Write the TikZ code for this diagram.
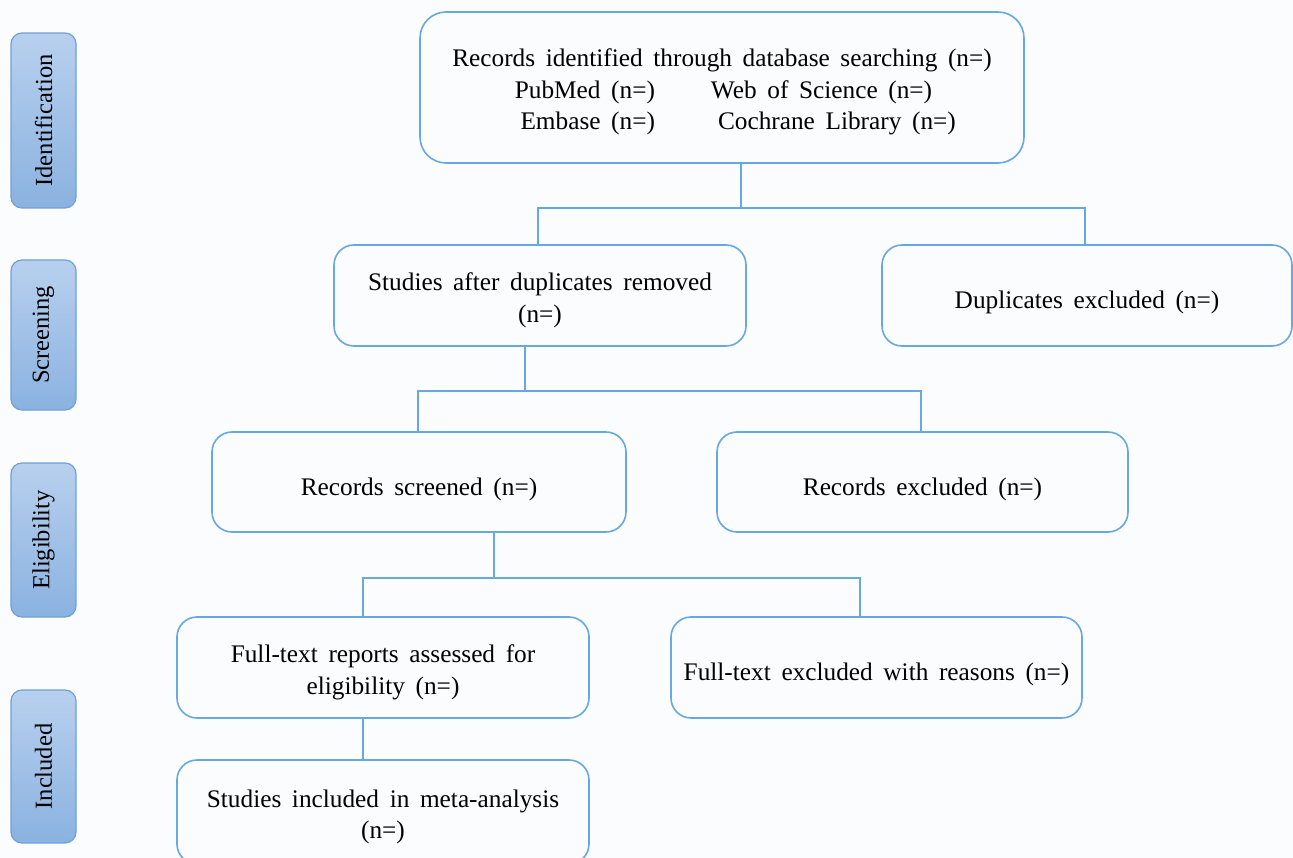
\documentclass[tikz,border=0pt]{standalone}
\usepackage{fontspec}
\setmainfont{Liberation Serif}
\usepackage{xcolor}
\usetikzlibrary{calc}
\tikzset{>=latex}

\definecolor{pagebg}{RGB}{251,252,254}
\definecolor{edgeblue}{RGB}{104,168,224}
\definecolor{stagetop}{RGB}{184,208,238}
\definecolor{stagebot}{RGB}{138,178,224}
\definecolor{stageedge}{RGB}{112,160,215}

\newcommand\boxfont{\fontsize{25.3}{31.5}\selectfont}
\newcommand\widespaces{\spaceskip=0.42em plus 0.1em\relax\rule{0pt}{32pt}}
\newcommand\firstline{\rule{0pt}{27pt}}

\tikzset{
	box/.style={draw=edgeblue, line width=1.6pt, rounded corners=20pt, fill=pagebg, align=center,
		font=\boxfont, execute at begin node=\widespaces, inner sep=0pt},
	stagebox/.style={draw=stageedge, line width=1.2pt, rounded corners=11pt,
		top color=stagetop, bottom color=stagebot, minimum width=65pt,
		font=\fontsize{24.5}{28}\selectfont},
	link/.style={draw=edgeblue, line width=1.6pt}
}

\begin{document}
\begin{tikzpicture}[x=1pt, y=-1pt]
	% page and margins
	\fill[pagebg] (0,0) rectangle (1293,858);
	\useasboundingbox (0,0) rectangle (1293,858);

	% Stages on the left
	\node[stagebox, minimum height=175pt] (ident) at (43.5,120.5) {\rotatebox{90}{Identification}};
	\node[stagebox, minimum height=150pt] (screen) at (43.5,335) {\rotatebox{90}{Screening}};
	\node[stagebox, minimum height=154pt] (elig) at (43.5,540) {\rotatebox{90}{Eligibility}};
	\node[stagebox, minimum height=153pt] (incstage) at (43.5,766.5) {\rotatebox{90}{Included}};

	% Boxes
	\node[box, minimum width=604pt, minimum height=151pt, rounded corners=26pt] (rec) at (722,87.5)
		{\firstline Records identified through database searching (n=)\\
		 \makebox[0pt][r]{PubMed (n=)\hspace{67pt}}\makebox[0pt][l]{\hspace{-11pt}Web of Science (n=)}\\
		 \makebox[0pt][r]{Embase (n=)\hspace{67pt}}\makebox[0pt][l]{\hspace{-4pt}Cochrane Library (n=)}};
	\node[box, minimum width=412pt, minimum height=101pt] (stud) at (540,295.5)
		{\firstline Studies after duplicates removed\\(n=)};
	\node[box, minimum width=410pt, minimum height=101pt] (dupex) at (1087,295.5)
		{Duplicates excluded (n=)};
	\node[box, minimum width=414pt, minimum height=100pt] (scrn) at (419,482)
		{Records screened (n=)};
	\node[box, minimum width=411pt, minimum height=100pt] (recex) at (922.5,482)
		{Records excluded (n=)};
	\node[box, minimum width=412pt, minimum height=101pt] (full) at (383,667.5)
		{\firstline Full-text reports assessed for\\eligibility (n=)};
	\node[box, minimum width=411pt, minimum height=101pt] (fullex) at (876.5,667.5)
		{Full-text excluded with reasons (n=)};
	\node[box, minimum width=412pt, minimum height=104pt] (incl) at (383,812)
		{\firstline Studies included in meta-analysis\\(n=)};

	% Junctions of the connectors
	\coordinate (j1) at (741,208);
	\coordinate (j1l) at (538,208);
	\coordinate (j1r) at (1085,208);
	\coordinate (j2) at (525,391);
	\coordinate (j2l) at (418,391);
	\coordinate (j2r) at (921,391);
	\coordinate (j3) at (494,578);
	\coordinate (j3l) at (363,578);
	\coordinate (j3r) at (860,578);

	% Drawing the connectors
	\draw[link] (rec.south -| j1) -- (j1);
	\draw[link] (stud.north -| j1l) -- (j1l) -- (j1r) -- (dupex.north -| j1r);
	\draw[link] (stud.south -| j2) -- (j2);
	\draw[link] (scrn.north -| j2l) -- (j2l) -- (j2r) -- (recex.north -| j2r);
	\draw[link] (scrn.south -| j3) -- (j3);
	\draw[link] (full.north -| j3l) -- (j3l) -- (j3r) -- (fullex.north -| j3r);
	\draw[link] (full.south -| j3l) -- (incl.north -| j3l);
\end{tikzpicture}
\end{document}
